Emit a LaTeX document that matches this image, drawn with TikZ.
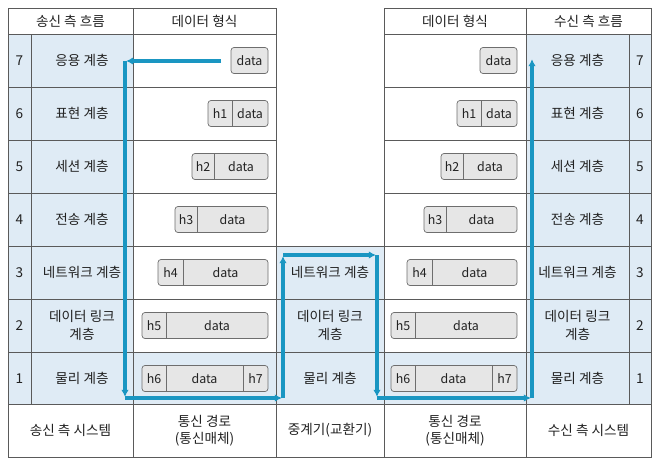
\documentclass[tikz,border=0pt]{standalone}
\usepackage{fontspec}
\setmainfont{Noto Sans CJK KR}
\usetikzlibrary{arrows.meta,fit,positioning}
\definecolor{flowblue}{HTML}{1A96C2}
\definecolor{layerfill}{HTML}{DFEBF5}
\definecolor{pktfill}{HTML}{E6E6E6}
\definecolor{pktline}{HTML}{6E6E6E}
\definecolor{gridline}{HTML}{5A5A5A}
\definecolor{txt}{HTML}{222222}
\tikzset{
    %Define standard arrow tip
    >={Latex[length=6pt,width=6.5pt]},
    %Define style for table lines and shading
    grid/.style={draw=gridline, line width=0.6pt},
    layershade/.style={fill=layerfill, draw=none},
    cell/.style={
		font=\fontsize{11.6}{15}\selectfont,
		text=txt,
		align=center,
		inner sep=1pt},
    %Define style for packets
    pkt/.style={
		draw=pktline, fill=pktfill,
		rounded corners=2.5pt,
		inner sep=0pt, line width=0.6pt},
    pkttxt/.style={font=\fontsize{10.6}{12}\selectfont, text=txt, inner sep=0pt},
    flow/.style={->, draw=flowblue, line width=3pt, shorten >=1pt}
}

\begin{document}
\begin{tikzpicture}[x=0.03cm, y=-0.03cm]
	\useasboundingbox (0,0) rectangle (655,462);
	% shading
	\fill[layershade] (8,34) rectangle (133,404);
	\fill[layershade] (526,34) rectangle (651,404);
	\fill[layershade] (133,352) rectangle (526,404);
	\fill[layershade] (276,246) rectangle (384,404);
	% frames
	\draw[grid] (8,8) rectangle (276,404);
	\draw[grid] (384,8) rectangle (651,404);
	\draw[grid] (276,246) rectangle (384,404);
	\draw[grid] (8,404) rectangle (651,457);
	\draw[grid] (31,34) -- (31,404);
	\draw[grid] (629,34) -- (629,404);
	\foreach \x in {133,276,384,526}
		\draw[grid] (\x,8) -- (\x,457);
	\foreach \y in {34,87,140,193,246,299,352}{
		\draw[grid] (8,\y) -- (276,\y);
		\draw[grid] (384,\y) -- (651,\y);
	}
	\draw[grid] (276,299) -- (384,299);
	\draw[grid] (276,352) -- (384,352);
	% headers
	\node[cell] (hdL) at (70.5,21) {송신 측 흐름};
	\node[cell] (fmtL) at (204.5,21) {데이터 형식};
	\node[cell] (fmtR) at (455,21) {데이터 형식};
	\node[cell] (hdR) at (588.5,21) {수신 측 흐름};
	% bottom row
	\node[cell] (sysL) at (70.5,430.5) {송신 측 시스템};
	\node[cell] (medL) at (204.5,430.5) {통신 경로\\(통신매체)};
	\node[cell] (relay) at (330,430.5) {중계기(교환기)};
	\node[cell] (medR) at (455,430.5) {통신 경로\\(통신매체)};
	\node[cell] (sysR) at (588.5,430.5) {수신 측 시스템};
	% layers
	\foreach \r/\name in {7/응용 계층, 6/표현 계층, 5/세션 계층, 4/전송 계층,
			3/네트워크 계층, 2/데이터 링크\\계층, 1/물리 계층}{
		\node[cell] (nL\r) at (19.5,{34+(7-\r)*53+26.5}) {\r};
		\node[cell] (sL\r) at (82,{34+(7-\r)*53+26.5}) {\name};
		\node[cell] (sR\r) at (577.5,{34+(7-\r)*53+26.5}) {\name};
		\node[cell] (nR\r) at (640,{34+(7-\r)*53+26.5}) {\r};
	}
	\node[cell] (m3) at (330,272.5) {네트워크 계층};
	\node[cell] (m2) at (330,325.5) {데이터 링크\\계층};
	\node[cell] (m1) at (330,378.5) {물리 계층};
	% packets
	\foreach \side/\dx in {L/0, R/249}{
		\begin{scope}[shift={(\dx,0)}]
			\node[pkt, fit={(231,47.5) (268,73.5)}] (p\side7) {};
			\node[pkttxt] (d\side7) at (p\side7.center) {data};
			\foreach \r/\l/\d in {6/208/232, 5/192/214, 4/175/197, 3/158/183, 2/142/166}{
				\node[pkt, fit={(\l,{34+(7-\r)*53+13.5}) (268,{34+(7-\r)*53+39.5})}] (p\side\r) {};
				\draw[pkt, fill=none] (\d,{34+(7-\r)*53+13.5}) -- (\d,{34+(7-\r)*53+39.5});
				\node[pkttxt] (h\side\r) at ({(\l+\d)/2},{34+(7-\r)*53+26.5}) {h\the\numexpr7-\r\relax};
				\node[pkttxt] (d\side\r) at ({(\d+268)/2},{34+(7-\r)*53+26.5}) {data};
			}
			\node[pkt, fit={(142,365.5) (268,391.5)}] (p\side1) {};
			\draw[pkt, fill=none] (166,365.5) -- (166,391.5);
			\draw[pkt, fill=none] (243,365.5) -- (243,391.5);
			\node[pkttxt] (h\side1) at (154,378.5) {h6};
			\node[pkttxt] (d\side1) at (204.5,378.5) {data};
			\node[pkttxt] (t\side1) at (255.5,378.5) {h7};
		\end{scope}
	}
	% flow of data
	\coordinate (a) at (221,61);
	\coordinate (b) at (125,61);
	\coordinate (c) at (125,398);
	\coordinate (d) at (283,398);
	\coordinate (e) at (283,255);
	\coordinate (f) at (377,255);
	\coordinate (g) at (377,398);
	\coordinate (h) at (532,398);
	\coordinate (i) at (532,58);
	\draw[flow] (a) -- (b);
	\draw[flow] (b) -- (c);
	\draw[flow] (c) -- (d);
	\draw[flow] (d) -- (e);
	\draw[flow] (e) -- (f);
	\draw[flow] (f) -- (g);
	\draw[flow] (g) -- (h);
	\draw[flow] (h) -- (i);
\end{tikzpicture}
\end{document}
